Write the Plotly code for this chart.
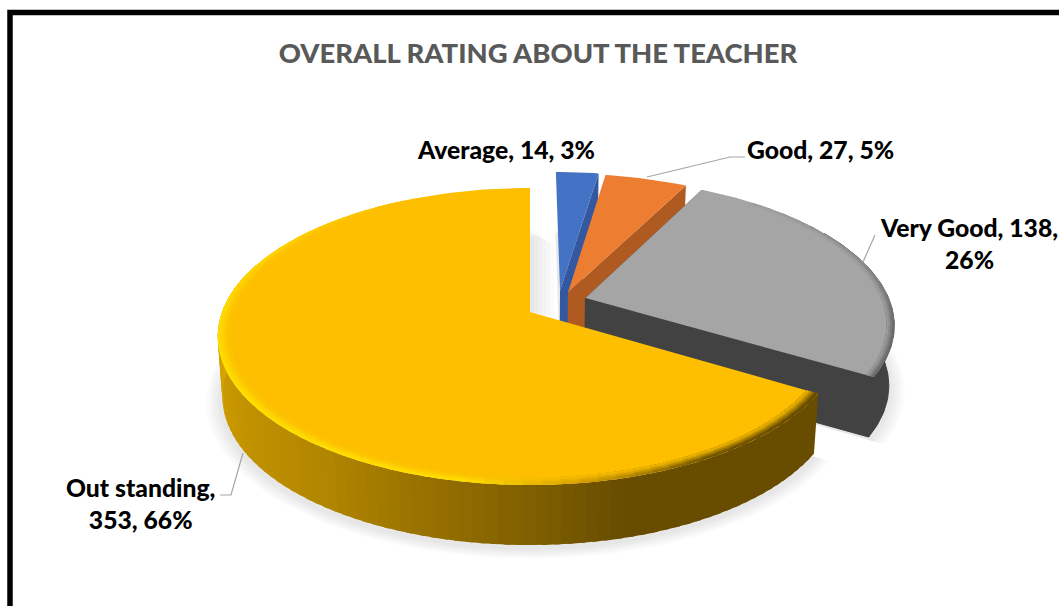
"""
Exploded 3D-look pie: overall rating about the teacher.
Plotly has no tilted pie, so slices are projected onto a pixel-sized cartesian plot.
"""

import numpy as np
import plotly.graph_objects as go

# data
categories = ["Average", "Good", "Very Good", "Out standing"]
values = [14, 27, 138, 353]
percents = [3, 5, 26, 66]
title_text = "OVERALL RATING ABOUT THE TEACHER"

# projection of the disk onto the page
CX, CY = 530, 312
RX, RY = 308, 144.5
PERSP = 0.165
DEPTH = 60
BOTTOM_SCALE = 0.985

# per-slice look
top_colors = ["#4472C4", "#ED7D31", "#A5A5A5", "#FDBF00"]
wall_colors = ["#34589F", "#AE5A21", "#424242", "#C49000"]
offsets = [(0.10, 0.153), (0.126, 0.138), (0.183, 0.098), (0.0, 0.0)]

# side gradient of the big slice, by clockwise angle from the top
side_stops_deg = [121, 165, 180, 215, 270, 310]
side_stops_rgb = [(104, 77, 0), (104, 77, 0), (128, 96, 0), (178, 134, 0), (218, 165, 0), (218, 165, 0)]

# bevel colour of the big slice rim
rim_stops_deg = [121, 150, 172, 190, 250, 295, 330]
rim_stops_rgb = [(95, 70, 0), (110, 82, 0), (215, 160, 0), (255, 222, 0), (255, 222, 0), (255, 212, 0), (253, 191, 0)]
rim_rings = [1.0, 0.994, 0.988, 0.982, 0.976, 0.970]
rim_mix = [1.0, 0.9, 0.7, 0.5, 0.3, 0.12]

# bevel of the grey slice, darkest on its right side
grey_rim_deg = [40, 75, 100, 121]
grey_rim_mix = [0.1, 0.5, 1.0, 1.0]


def project(theta, r, off, z=0.0):
    """theta is clockwise from the top in radians, z=1 is the underside"""
    u = off[0] + r * np.sin(theta)
    v = off[1] + r * np.cos(theta)
    w = 1 + PERSP * v
    x = CX + RX * u / w
    y = CY - RY * v / w
    if z:
        x = CX + (x - CX) * (1 - (1 - BOTTOM_SCALE) * z)
        y = y + DEPTH * z
    return x, y


def lerp_rgb(deg, stops, rgbs):
    return np.array([np.interp(deg, stops, [p[i] for p in rgbs]) for i in range(3)])


def css(rgb):
    return "rgb(%d,%d,%d)" % tuple(rgb)


def poly(fig, xs, ys, color, edge=False):
    fig.add_trace(go.Scatter(
        x=list(xs), y=list(ys),
        mode="lines",
        fill="toself",
        fillcolor=color,
        line=dict(color=color, width=1) if edge else dict(color="rgba(0,0,0,0)", width=0),
        hoverinfo="skip",
        showlegend=False,
    ))


def arc(start, end, r, off, z=0.0, step=1.0):
    n = max(int(abs(end - start) / step), 2)
    th = np.radians(np.linspace(start, end, n))
    return project(th, r, off, z)


def band(fig, a, b, r0, r1, off, color):
    x1, y1 = arc(a, b, r1, off)
    x2, y2 = arc(a, b, r0, off)
    poly(fig, np.r_[x1, x2[::-1]], np.r_[y1, y2[::-1]], color)


fig = go.Figure()

# slice angles come from the values
total = sum(values)
edges = np.concatenate([[0], np.cumsum(values)]) / total * 360

# soft shadow under everything
for i in range(len(values)):
    for grow in [0.050, 0.042, 0.034, 0.026, 0.018, 0.010]:
        xa, ya = arc(edges[i], edges[i + 1], 1 + grow, offsets[i], 1.0, 3.0)
        ax, ay = project(0.0, 0.0, offsets[i], 1.0)
        poly(fig, np.r_[ax, xa, ax], np.r_[ay, ya + 3, ay], "rgba(120,120,120,0.03)")

# shadow thrown into the gap right of the big slice
for dx in [4, 8, 12, 16, 20, 24]:
    gx0, gy0 = project(0.0, 1, offsets[3], 0.65)
    gx1, gy1 = project(0.0, 0.0, offsets[3])
    poly(fig, [gx1, gx0, gx0 + dx, gx1 + dx, gx1],
         [gy1, gy0 + 16 - dx * 0.6, gy0 + dx * 0.8, gy1 + 4, gy1], "rgba(120,120,120,0.028)")

# back to front, big slice last
for i in range(len(values)):
    start, end = edges[i], edges[i + 1]
    off = offsets[i]
    ax0, ay0 = project(0.0, 0.0, off)
    ax1, ay1 = project(0.0, 0.0, off, 1.0)

    # outer side: only the part turned to the viewer
    if i == 3:
        for a in np.arange(start, 290, 2.0):
            b = min(a + 3.0, 290)
            x1, y1 = arc(a, b, 1, off, 0, 1.0)
            x2, y2 = arc(a, b, 1, off, 1, 1.0)
            poly(fig, np.r_[x1, x2[::-1]], np.r_[y1, y2[::-1]],
                 css(lerp_rgb(a + 1, side_stops_deg, side_stops_rgb)))
    elif i == 2:
        x1, y1 = arc(60, end, 1, off, 0)
        x2, y2 = arc(60, end, 1, off, 1)
        poly(fig, np.r_[x1, x2[::-1]], np.r_[y1, y2[::-1]], wall_colors[i], edge=True)

    # cut wall that faces the viewer
    wall_deg = start if i == 2 else end
    ex0, ey0 = project(np.radians(wall_deg), 1, off)
    ex1, ey1 = project(np.radians(wall_deg), 1, off, 1.0)
    poly(fig, [ax0, ex0, ex1, ax1, ax0], [ay0, ey0, ey1, ay1, ay0], wall_colors[i])
    if i == 2:
        ex0, ey0 = project(np.radians(end), 1, off)
        ex1, ey1 = project(np.radians(end), 1, off, 1.0)
        poly(fig, [ax0, ex0, ex1, ax1, ax0], [ay0, ey0, ey1, ay1, ay0], wall_colors[i], edge=True)

    # top face
    xa, ya = arc(start, end, 1, off)
    poly(fig, np.r_[ax0, xa, ax0], np.r_[ay0, ya, ay0], top_colors[i])

    # bevel on the rim, outer ring first so inner rings cover the joins
    if i == 3:
        base = np.array([253, 191, 0])
        for r1, mix in zip(rim_rings, rim_mix):
            for a in np.arange(start, 330, 3.0):
                rgb = lerp_rgb(a + 1.5, rim_stops_deg, rim_stops_rgb)
                band(fig, a, a + 4.0, 0.964, r1, off, css(mix * rgb + (1 - mix) * base))
    if i == 2:
        base = np.array([165, 165, 165])
        dark = np.array([105, 105, 105])
        for r1, mix in zip(rim_rings[:4], [1.0, 0.75, 0.45, 0.2]):
            for a in np.arange(40, end, 4.0):
                m = mix * np.interp(a + 2, grey_rim_deg, grey_rim_mix)
                band(fig, a, min(a + 5.0, end), 0.976, r1, off, css(m * dark + (1 - m) * base))

# leader lines
leader_x = [[647, 730, 745], [863, 875], [243, 231, 220]]
leader_y = [[177, 157, 157], [262, 235], [453, 495, 495]]
for lx, ly in zip(leader_x, leader_y):
    fig.add_trace(go.Scatter(
        x=lx, y=ly, mode="lines",
        line=dict(color="#A6A6A6", width=1.2),
        hoverinfo="skip", showlegend=False,
    ))

# data labels
labels = [f"{c}, {v}, {p}%" for c, v, p in zip(categories, values, percents)]
labels[2] = f"{categories[2]}, {values[2]},<br>{percents[2]}%"
labels[3] = f"{categories[3]},<br>{values[3]}, {percents[3]}%"
label_x = [506, 820, 969, 140]
label_y = [149, 149, 243, 503]
for text, lx, ly in zip(labels, label_x, label_y):
    fig.add_annotation(
        x=lx, y=ly, text=text,
        showarrow=False,
        font=dict(family="Lato", size=24.7, weight=900, color="#000000"),
    )

# chart frame, open to the right and bottom of the crop
fig.add_shape(type="rect", x0=10, y0=12.5, x1=1200, y1=800,
              line=dict(color="#000000", width=5.5), fillcolor="rgba(0,0,0,0)")

fig.update_layout(
    width=1059,
    height=606,
    margin=dict(l=0, r=0, t=0, b=0),
    paper_bgcolor="#FFFFFF",
    plot_bgcolor="#FFFFFF",
    title=dict(
        text=title_text,
        x=538 / 1059, xanchor="center",
        y=1 - 53 / 606, yanchor="middle",
        font=dict(family="Lato", size=27.4, weight=900, color="#595959"),
    ),
    xaxis=dict(range=[0, 1059], visible=False, fixedrange=True),
    yaxis=dict(range=[606, 0], visible=False, fixedrange=True),
    showlegend=False,
)

# the page's default body margin would push the figure off the window
fig.write_html("out.html", config=dict(displayModeBar=False),
               post_script="document.body.style.margin = '0';")
